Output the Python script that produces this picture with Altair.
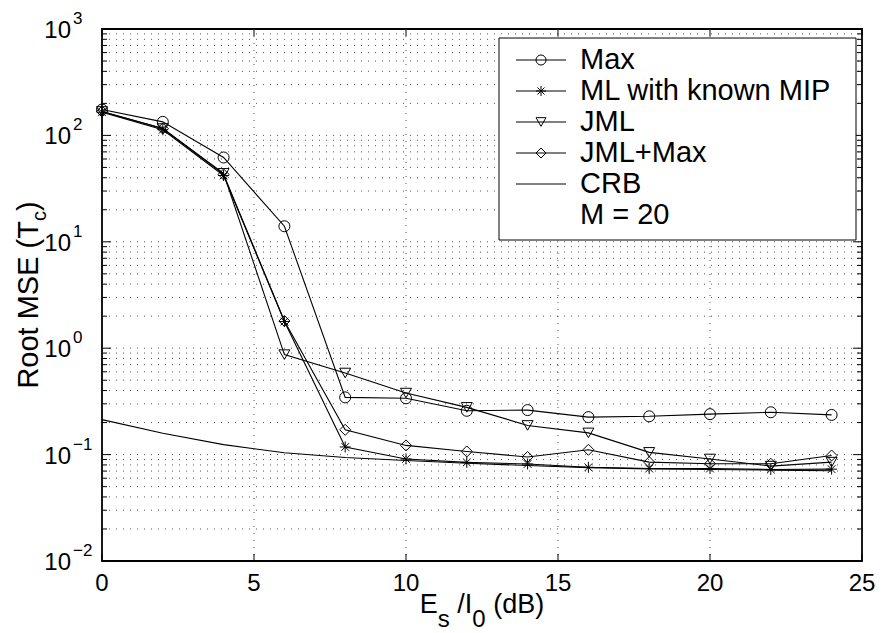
import altair as alt
import pandas as pd

# ---------------- data ----------------
snr_db = [0, 2, 4, 6, 8, 10, 12, 14, 16, 18, 20, 22, 24]
rmse_max = [175, 134, 62, 14.0, 0.345, 0.338, 0.258, 0.262, 0.225, 0.229, 0.240, 0.250, 0.236]
rmse_ml_known = [165, 113, 42, 1.78, 0.118, 0.091, 0.0845, 0.0816, 0.0760, 0.0740, 0.0740, 0.0725, 0.0730]
rmse_jml = [168, 116, 44, 0.87, 0.585, 0.379, 0.278, 0.188, 0.160, 0.105, 0.091, 0.078, 0.085]
rmse_jml_max = [168, 116, 43, 1.80, 0.171, 0.122, 0.107, 0.095, 0.111, 0.085, 0.082, 0.082, 0.098]
rmse_crb = [0.213, 0.159, 0.124, 0.104, 0.094, 0.088, 0.083, 0.079, 0.0755, 0.0735, 0.0725, 0.0715, 0.0705]

series_names = ["Max", "ML with known MIP", "JML", "JML+Max", "CRB"]
legend_note = "M = 20"
x_tick_values = [0, 5, 10, 15, 20, 25]
x_tick_labels = ["0", "5", "10", "15", "20", "25"]
y_decades = [0.01, 0.1, 1, 10, 100, 1000]
y_exponents = ["\u22122", "\u22121", "0", "1", "2", "3"]

ASTERISK = "M0,-1L0,1M-1,0L1,0M-0.7,-0.7L0.7,0.7M-0.7,0.7L0.7,-0.7"
marker_shapes = ["circle", ASTERISK, "triangle-down", "diamond"]

# ---------------- layout ----------------
W, H = 760, 532
FONT = "Liberation Sans"

series_values = [rmse_max, rmse_ml_known, rmse_jml, rmse_jml_max, rmse_crb]
rows = []
for name, vals in zip(series_names, series_values):
    for x, v in zip(snr_db, vals):
        rows.append({"series": name, "snr": x, "rmse": v})
df = pd.DataFrame(rows)
df_pts = df[df["series"] != "CRB"]

minor_vals = []
for d in [0.01, 0.1, 1, 10, 100]:
    for k in range(1, 10):
        minor_vals.append(round(d * k, 6))
minor_vals.append(1000)

xscale = alt.Scale(domain=[0, 25], nice=False, zero=False)
yscale = alt.Scale(type="log", domain=[0.01, 1000], nice=False)

X = alt.X("snr:Q", scale=xscale, axis=None)
Y = alt.Y("rmse:Q", scale=yscale, axis=None)

# ---------------- dotted grid ----------------
GRID = dict(color="#444", strokeWidth=1, strokeDash=[1, 6], opacity=0.9)
ygrid_df = pd.DataFrame({"v": [v for v in minor_vals if 0.01 < v < 1000]})
xgrid_df = pd.DataFrame({"t": [5, 10, 15, 20]})
Ytk = alt.Y("v:Q", scale=yscale, axis=None)
Xtk = alt.X("t:Q", scale=xscale, axis=None)
grid_layers = [
    alt.Chart(ygrid_df).mark_rule(**GRID).encode(y=Ytk, x=alt.value(0), x2=alt.value(W)),
    alt.Chart(xgrid_df).mark_rule(**GRID).encode(x=Xtk, y=alt.value(0), y2=alt.value(H)),
]

lines = alt.Chart(df).mark_line(color="black", strokeWidth=1.1).encode(
    x=X, y=Y, detail="series:N")

shape_scale = alt.Scale(domain=series_names[:4], range=marker_shapes)
points = alt.Chart(df_pts).mark_point(filled=False, color="black", strokeWidth=1,
                                      opacity=1, size=121).encode(
    x=X, y=Y,
    shape=alt.Shape("series:N", scale=shape_scale, legend=None))

# ---------------- ticks (inside) ----------------
tick_df = pd.DataFrame({"v": minor_vals,
                        "major": [v in y_decades for v in minor_vals]})
maj = tick_df[tick_df["major"]]
mnr = tick_df[~tick_df["major"]]
tick_layers = [
    alt.Chart(maj).mark_rule(color="black", strokeWidth=1).encode(y=Ytk, x=alt.value(0), x2=alt.value(9)),
    alt.Chart(maj).mark_rule(color="black", strokeWidth=1).encode(y=Ytk, x=alt.value(W - 9), x2=alt.value(W)),
    alt.Chart(mnr).mark_rule(color="black", strokeWidth=1).encode(y=Ytk, x=alt.value(0), x2=alt.value(5)),
    alt.Chart(mnr).mark_rule(color="black", strokeWidth=1).encode(y=Ytk, x=alt.value(W - 5), x2=alt.value(W)),
]
xt_df = pd.DataFrame({"t": x_tick_values, "lab": x_tick_labels})
tick_layers += [
    alt.Chart(xt_df).mark_rule(color="black", strokeWidth=1).encode(x=Xtk, y=alt.value(H - 7), y2=alt.value(H)),
    alt.Chart(xt_df).mark_rule(color="black", strokeWidth=1).encode(x=Xtk, y=alt.value(0), y2=alt.value(7)),
]

# ---------------- tick labels ----------------
yl_df = pd.DataFrame({"v": y_decades, "e": y_exponents})
ylab_base = alt.Chart(yl_df).mark_text(text="10", align="right", baseline="alphabetic",
                                       dy=9, fontSize=24, font=FONT, color="black").encode(
    y=Ytk, x=alt.value(-31))
ylab_exp = alt.Chart(yl_df).mark_text(align="left", baseline="alphabetic", dy=-5,
                                      fontSize=17, font=FONT, color="black").encode(
    y=Ytk, x=alt.value(-29), text="e:N")
xlab = alt.Chart(xt_df).mark_text(align="center", baseline="alphabetic", fontSize=24,
                                  font=FONT, color="black").encode(
    x=Xtk, y=alt.value(H + 30), text="lab:N")

one = pd.DataFrame({"a": [0]})


def txt(s, x, y, size, angle=0, align="left", baseline="alphabetic"):
    kw = dict(text=s, align=align, baseline=baseline, fontSize=size, font=FONT, color="black")
    if angle:
        kw["angle"] = angle
    return alt.Chart(one).mark_text(**kw).encode(x=alt.value(x), y=alt.value(y))


# Arial-compatible advance widths (em)
AW = {"E": .667, "s": .5, " ": .278, "/": .278, "I": .278, "0": .556, "(": .333,
      "d": .556, "B": .667, ")": .333, "R": .722, "o": .556, "t": .278, "M": .833,
      "S": .667, "T": .611, "c": .5}


def width(s, size):
    return sum(AW[ch] for ch in s) * size


# x title: E_s /I_0 (dB)  (leading spaces handled as offsets)
FM, FS = 27, 24
x_pieces = [("E", FM, 0), ("s", FS, 1), (" /I", FM, 0), ("0", FS, 1), (" (dB)", FM, 0)]
total = sum(width(p, f) for p, f, _ in x_pieces)
cx = W / 2 - total / 2
xtitle_layers = []
for p, f, sub in x_pieces:
    lead = width(p[:len(p) - len(p.lstrip())], f)
    xtitle_layers.append(txt(p.strip(), cx + lead, H + (66 if sub else 52), f))
    cx += width(p, f)

# y title: Root MSE (T_c)
YM, YS = 29, 20
y_pieces = [("Root MSE (T", YM, 0), ("c", YS, 1), (")", YM, 0)]
total = sum(width(p, f) for p, f, _ in y_pieces)
cy = H / 2 + total / 2
ytitle_layers = []
for p, f, sub in y_pieces:
    ytitle_layers.append(txt(p, -56 if sub else -64, cy, f, angle=270))
    cy -= width(p, f)

# ---------------- legend ----------------
LX0, LX1, LY0, LY1 = 397, 754, 9, 211
legend_layers = [
    alt.Chart(one).mark_rect(fill="white", stroke="black", strokeWidth=1).encode(
        x=alt.value(LX0), x2=alt.value(LX1), y=alt.value(LY0), y2=alt.value(LY1))
]
row_y = [31 + 31 * i for i in range(6)]
for i, name in enumerate(series_names):
    yy = row_y[i]
    legend_layers.append(alt.Chart(one).mark_rule(color="black", strokeWidth=1).encode(
        x=alt.value(414), x2=alt.value(464), y=alt.value(yy)))
    if i < 4:
        legend_layers.append(alt.Chart(one).mark_point(
            shape=marker_shapes[i], filled=False, color="black", strokeWidth=1,
            opacity=1, size=100).encode(x=alt.value(439), y=alt.value(yy)))
    legend_layers.append(txt(name, 478, yy, 29, baseline="middle"))
legend_layers.append(txt(legend_note, 478, row_y[5], 29, baseline="middle"))

chart = alt.layer(
    *grid_layers, lines, points, *tick_layers, ylab_base, ylab_exp, xlab,
    *xtitle_layers, *ytitle_layers, *legend_layers
).properties(
    width=W, height=H,
    autosize=alt.AutoSizeParams(type="none"),
    padding={"left": 102, "top": 29, "right": 20, "bottom": 72},
    background="white",
).configure_view(stroke="black", strokeWidth=1.8)

chart.save("out.html", embed_options={"renderer": "svg", "actions": False})
